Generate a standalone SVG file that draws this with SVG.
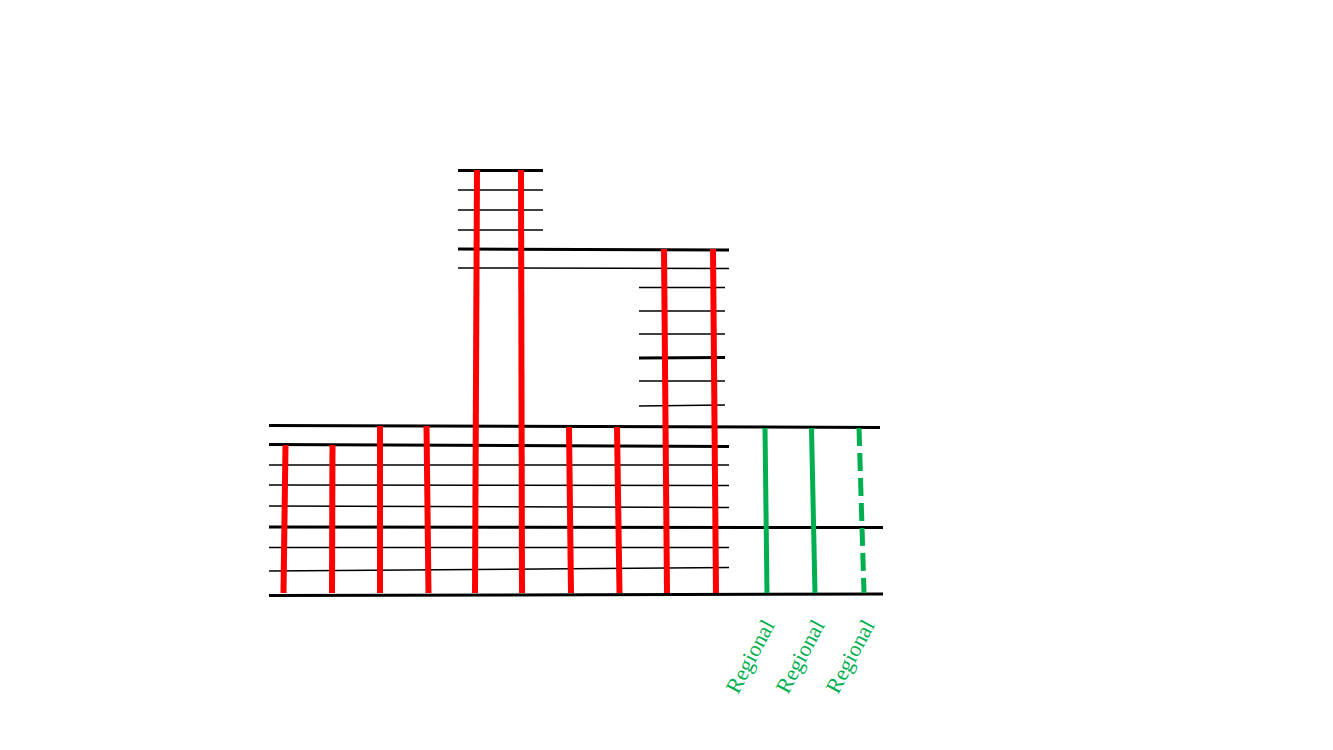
<svg xmlns="http://www.w3.org/2000/svg" width="1333" height="750" viewBox="0 0 1333 750">
<style>
.thick{stroke:#000;stroke-width:3;fill:none}
.thin{stroke:#000;stroke-width:1.5;fill:none}
.red{stroke:#FF0000;stroke-width:6;fill:none}
.green{stroke:#00B050;stroke-width:5;fill:none}
.dash{stroke-dasharray:18 7}
.lbl{font-family:"Liberation Serif",serif;font-size:22px;fill:#00B050}
</style>
<rect width="1333" height="750" fill="#fff"/>
<g id="floors">
<line class="thick" x1="458" y1="170.5" x2="543" y2="170.5"/>
<line class="thin" x1="458" y1="190" x2="543" y2="190"/>
<line class="thin" x1="458" y1="210" x2="543" y2="210"/>
<line class="thin" x1="458" y1="230" x2="543" y2="230"/>
<line class="thick" x1="458" y1="249" x2="729" y2="250"/>
<line class="thin" x1="458" y1="268" x2="729" y2="268.5"/>
<line class="thin" x1="639" y1="287.5" x2="725" y2="287.5"/>
<line class="thin" x1="639" y1="311" x2="725" y2="311"/>
<line class="thin" x1="639" y1="334" x2="725" y2="334"/>
<line class="thick" x1="639" y1="358" x2="725" y2="357.5"/>
<line class="thin" x1="639" y1="381" x2="725" y2="381"/>
<line class="thin" x1="639" y1="406" x2="725" y2="405"/>
<line class="thick" x1="269" y1="425.5" x2="880" y2="427.5"/>
<line class="thick" x1="269" y1="444.5" x2="729" y2="446.5"/>
<line class="thin" x1="269" y1="465" x2="729" y2="465"/>
<line class="thin" x1="269" y1="485" x2="729" y2="485.5"/>
<line class="thin" x1="269" y1="506" x2="729" y2="507.5"/>
<line class="thick" x1="269" y1="527" x2="883" y2="527.5"/>
<line class="thin" x1="269" y1="547.5" x2="729" y2="547.5"/>
<line class="thin" x1="269" y1="571" x2="729" y2="567.5"/>
<line class="thick" x1="269" y1="595.5" x2="883" y2="594"/>
</g>
<g id="connectors">
<line class="red" x1="285.5" y1="445" x2="283.5" y2="593"/>
<line class="red" x1="332.5" y1="445" x2="332" y2="593"/>
<line class="red" x1="380" y1="426" x2="380" y2="593"/>
<line class="red" x1="426.5" y1="426" x2="428.5" y2="593"/>
<line class="red" x1="477" y1="170" x2="475" y2="593"/>
<line class="red" x1="521" y1="170" x2="522" y2="593"/>
<line class="red" x1="569" y1="427" x2="571" y2="593"/>
<line class="red" x1="617" y1="427" x2="619.5" y2="593"/>
<line class="red" x1="664" y1="249" x2="667" y2="593"/>
<line class="red" x1="713" y1="249" x2="716" y2="593"/>
<line class="green" x1="765" y1="428" x2="767" y2="593"/>
<line class="green" x1="811.5" y1="428" x2="815" y2="593"/>
<line class="green dash" x1="859" y1="428" x2="864" y2="593"/>
</g>
<g id="labels">
<text class="lbl" transform="translate(738,695) rotate(-62)">Regional</text>
<text class="lbl" transform="translate(788,695) rotate(-62)">Regional</text>
<text class="lbl" transform="translate(838,695) rotate(-62)">Regional</text>
</g>
</svg>
